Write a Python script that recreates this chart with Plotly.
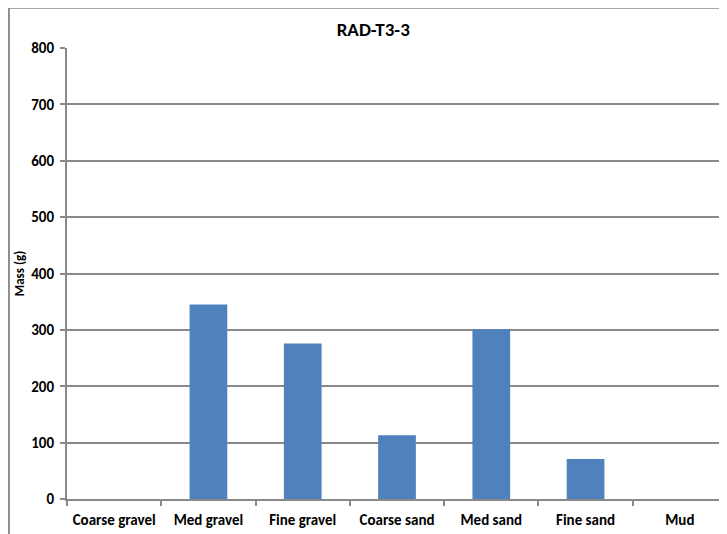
import plotly.graph_objects as go

# Sediment fractions and their masses for sample RAD-T3-3
CATEGORIES = ["Coarse gravel", "Med gravel", "Fine gravel", "Coarse sand",
              "Med sand", "Fine sand", "Mud"]
MASS_G = [0, 345, 276, 113, 301, 71, 0]
Y_TICKS = [0, 100, 200, 300, 400, 500, 600, 700, 800]

BAR_COLOR = "#4F81BD"
GRID_COLOR = "#898989"
FONT = "Carlito, Calibri, Lato, sans-serif"

fig = go.Figure()
fig.add_trace(
    go.Bar(
        x=CATEGORIES,
        y=MASS_G,
        marker={"color": BAR_COLOR, "line": {"width": 0}},
        showlegend=False,
    )
)

# the page body adds an 8px offset, so the figure is sized to fill the rest
fig.update_layout(
    width=719,
    height=526,
    margin={"l": 59, "r": 0, "t": 40, "b": 35},
    paper_bgcolor="white",
    plot_bgcolor="white",
    bargap=0.6,
    font={"family": FONT, "size": 15, "color": "black"},
    title={
        "text": "<b>RAD-T3-3</b>",
        "x": 0.508,
        "xanchor": "center",
        "y": 0.96,
        "yanchor": "middle",
        "font": {"family": FONT, "size": 19, "color": "black"},
    },
    xaxis={
        "type": "category",
        "showgrid": False,
        "showline": True,
        "linecolor": GRID_COLOR,
        "linewidth": 2,
        "ticks": "outside",
        "tickson": "boundaries",
        "ticklen": 5,
        "tickwidth": 2,
        "tickcolor": GRID_COLOR,
        "ticklabelstandoff": 6,
        "tickfont": {"family": FONT, "size": 15, "color": "black", "weight": "bold"},
    },
    yaxis={
        "range": [0, 800],
        "tickvals": Y_TICKS,
        "showgrid": True,
        "gridcolor": GRID_COLOR,
        "gridwidth": 2,
        "showline": True,
        "linecolor": GRID_COLOR,
        "linewidth": 2,
        "ticks": "outside",
        "ticklen": 5,
        "tickwidth": 2,
        "tickcolor": GRID_COLOR,
        "ticklabelstandoff": 3,
        "zeroline": False,
        "tickfont": {"family": FONT, "size": 15, "color": "black", "weight": "bold"},
        "title": {
            "text": "<b>Mass (g)</b>",
            "font": {"family": FONT, "size": 13, "color": "black"},
            "standoff": 4,
        },
    },
    shapes=[
        {
            "type": "rect",
            "xref": "paper",
            "yref": "paper",
            "x0": -0.088,
            "x1": 1.2,
            "y0": -0.2,
            "y1": 1.089,
            "line": {"color": "#8C8C8C", "width": 2},
            "layer": "below",
        }
    ],
)

fig.write_html("out.html")
